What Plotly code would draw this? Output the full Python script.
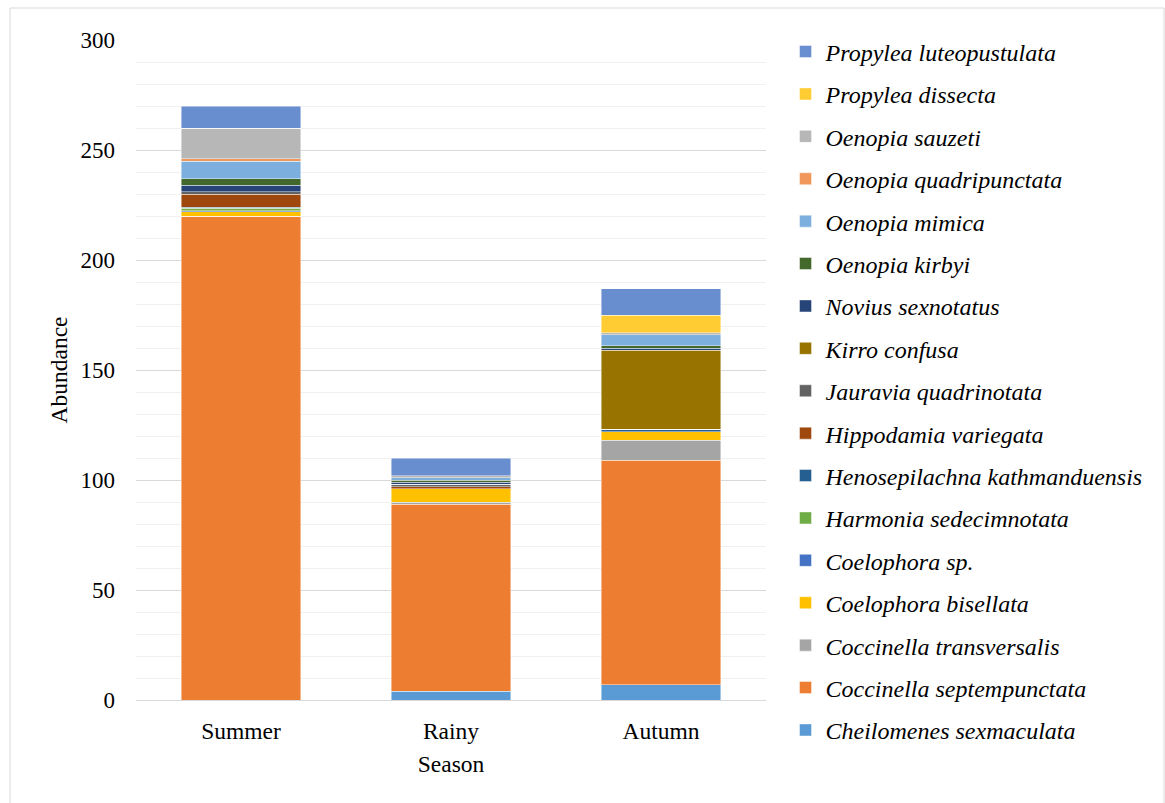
import plotly.graph_objects as go

seasons = ["Summer", "Rainy", "Autumn"]

# Species listed bottom-to-top of each stacked bar
species = [
    "Cheilomenes sexmaculata",
    "Coccinella septempunctata",
    "Coccinella transversalis",
    "Coelophora bisellata",
    "Coelophora sp.",
    "Harmonia sedecimnotata",
    "Henosepilachna kathmanduensis",
    "Hippodamia variegata",
    "Jauravia quadrinotata",
    "Kirro confusa",
    "Novius sexnotatus",
    "Oenopia kirbyi",
    "Oenopia mimica",
    "Oenopia quadripunctata",
    "Oenopia sauzeti",
    "Propylea dissecta",
    "Propylea luteopustulata",
]

# Abundance per season (Summer, Rainy, Autumn)
cheilomenes_sexmaculata = [0, 4, 7]
coccinella_septempunctata = [220, 85, 102]
coccinella_transversalis = [0, 1, 9]
coelophora_bisellata = [2, 6, 4]
coelophora_sp = [0.5, 0, 0]
harmonia_sedecimnotata = [1, 0, 0]
henosepilachna_kathmanduensis = [0.5, 0, 1]
hippodamia_variegata = [6, 1, 0]
jauravia_quadrinotata = [1, 1, 0]
kirro_confusa = [0, 0, 36]
novius_sexnotatus = [3, 1, 1]
oenopia_kirbyi = [3, 1, 1]
oenopia_mimica = [8, 1, 5]
oenopia_quadripunctata = [1, 0, 0]
oenopia_sauzeti = [14, 1, 1]
propylea_dissecta = [0, 0, 8]
propylea_luteopustulata = [10, 8, 12]

values = [
    cheilomenes_sexmaculata,
    coccinella_septempunctata,
    coccinella_transversalis,
    coelophora_bisellata,
    coelophora_sp,
    harmonia_sedecimnotata,
    henosepilachna_kathmanduensis,
    hippodamia_variegata,
    jauravia_quadrinotata,
    kirro_confusa,
    novius_sexnotatus,
    oenopia_kirbyi,
    oenopia_mimica,
    oenopia_quadripunctata,
    oenopia_sauzeti,
    propylea_dissecta,
    propylea_luteopustulata,
]

colors = [
    "#5B9BD5", "#ED7D31", "#A5A5A5", "#FFC000", "#4472C4", "#70AD47",
    "#255E91", "#9E480E", "#636363", "#997300", "#264478", "#43682B",
    "#7CAFDD", "#F1975A", "#B7B7B7", "#FFCD33", "#698ED0",
]

serif = "Liberation Serif, Times New Roman, serif"

fig = go.Figure()
n = len(species)
for i, (name, vals, col) in enumerate(zip(species, values, colors)):
    fig.add_trace(go.Bar(
        x=seasons,
        y=vals,
        name=name,
        legendgroup=f"g{i}",
        legendrank=n - i,  # top of the stack listed first
        marker=dict(color=col, line=dict(color="rgba(255,255,255,0.55)", width=0.8)),
    ))

fig.update_layout(
    width=1165,
    height=803,
    barmode="stack",
    bargap=0.43,
    plot_bgcolor="white",
    paper_bgcolor="white",
    margin=dict(l=136, r=399, t=40, b=103),
    font=dict(family=serif, size=23, color="#000000"),
    legend=dict(
        x=1.031, xanchor="left",
        y=1.016, yanchor="top",
        traceorder="grouped",
        tracegroupgap=8.2,
        font=dict(family=serif, size=24, style="italic"),
        bgcolor="rgba(0,0,0,0)",
        itemwidth=30,
        maxheight=795,
    ),
    xaxis=dict(
        title=dict(text="Season", font=dict(size=23.5), standoff=12),
        showgrid=False,
        showline=True,
        linecolor="#d9d9d9",
        linewidth=1,
        ticks="",
        ticklabelstandoff=10,
        tickfont=dict(size=23.5),
    ),
    yaxis=dict(
        title=dict(text="Abundance", font=dict(size=23.5), standoff=6),
        range=[0, 300],
        dtick=50,
        showgrid=True,
        gridcolor="#d9d9d9",
        gridwidth=1,
        zeroline=False,
        ticks="",
        ticklabelstandoff=20,
        tickfont=dict(size=23),
        minor=dict(dtick=10, showgrid=True, gridcolor="#f0f0f0", gridwidth=1),
    ),
    shapes=[
        dict(type="rect", xref="paper", yref="paper",
             x0=(10 - 136) / 630, x1=(1164 - 136) / 630,
             y0=-(803 - 700 - 2) / 660 - 0.01, y1=1 + (40 - 8) / 660,
             line=dict(color="#d9d9d9", width=1), fillcolor="rgba(0,0,0,0)",
             layer="below"),
    ],
)

fig.write_html("out.html")
